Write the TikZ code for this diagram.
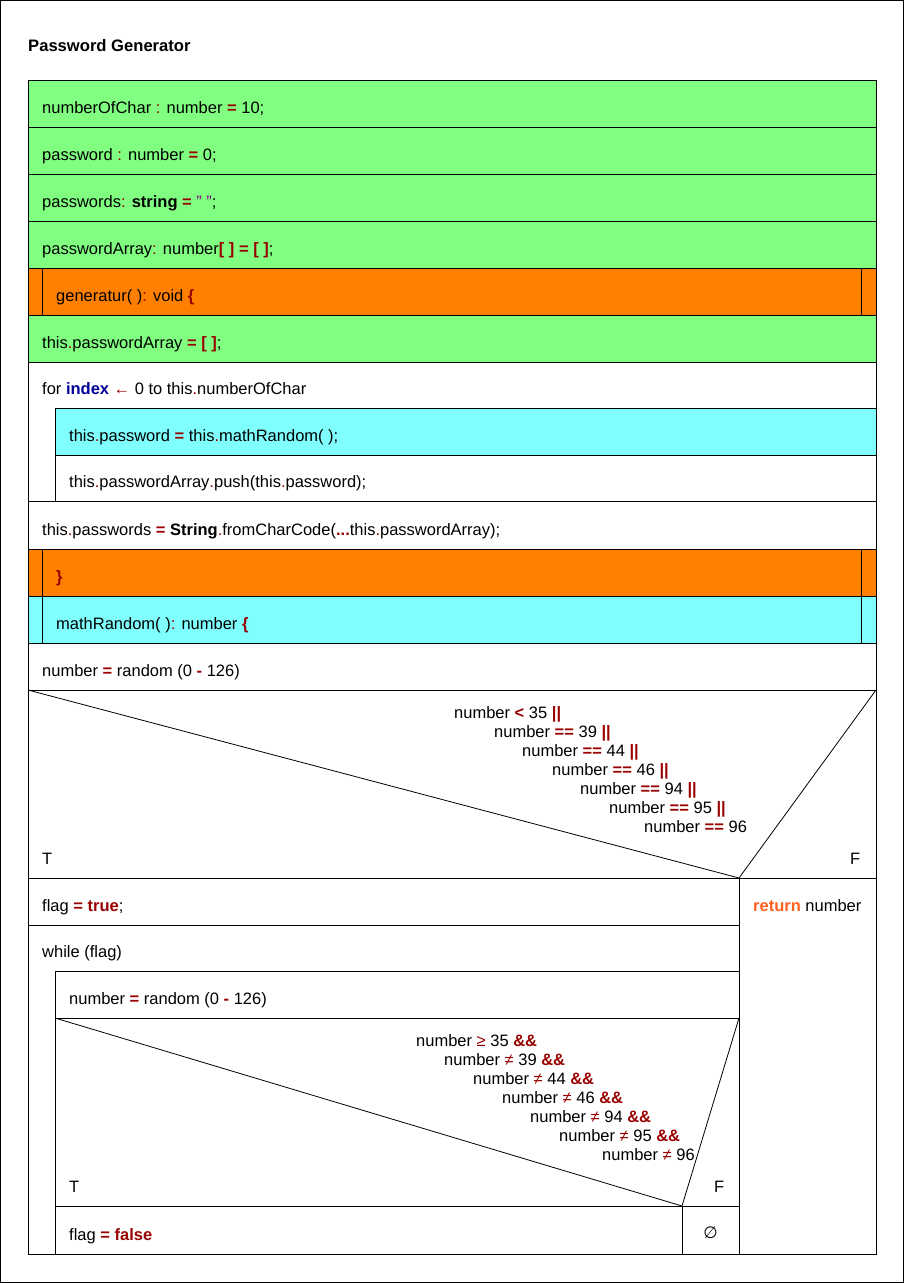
\documentclass[tikz,border=0pt]{standalone}
\usepackage{fontspec}
\setmainfont{Liberation Sans}
\newfontfamily\djv{DejaVu Sans}
\definecolor{nsgreen}{HTML}{80FF80}
\definecolor{nsorange}{HTML}{FF8000}
\definecolor{nscyan}{HTML}{80FFFF}
\definecolor{opred}{HTML}{990000}
\definecolor{kwblue}{HTML}{000099}
\definecolor{retorange}{HTML}{FF6020}
\definecolor{strpurple}{HTML}{800080}
\newcommand\opb[1]{\textcolor{opred}{\textbf{#1}}}
\newcommand\opn[1]{\textcolor{opred}{#1}}
\tikzset{
  txt/.style={anchor=base west,inner sep=0pt,font=\fontsize{16.5}{19}\selectfont},
  ttl/.style={anchor=base west,inner sep=0pt,font=\fontsize{16.6}{19}\selectfont\bfseries},
  ln/.style={draw=black,line width=1pt},
  diag/.style={draw=black,line width=0.8pt}
}
\begin{document}
\begin{tikzpicture}[x=1pt,y=-1pt]
\useasboundingbox (0,0) rectangle (904,1283);
\draw[line width=1.2pt] (0.6,0.6) rectangle (903.4,1282.4);
\node[ttl] (title) at (28,51) {Password Generator};
% fills
\fill[nsgreen] (28,80) rectangle (876,268);
\fill[nsorange] (28,268) rectangle (876,315);
\fill[nsgreen] (28,315) rectangle (876,362);
\fill[nscyan] (55,408) rectangle (876,455);
\fill[nsorange] (28,549) rectangle (876,596);
\fill[nscyan] (28,596) rectangle (876,643);
% lines
\draw[ln] (28,80) rectangle (876,1254);
\foreach \yy in {127,174,221,268,315,362,501,549,596,643,690,878}
  {\draw[ln] (28,\yy) -- (876,\yy);}
\draw[ln] (42,268) -- (42,315);
\draw[ln] (861,268) -- (861,315);
\draw[ln] (55,408) -- (876,408);
\draw[ln] (55,455) -- (876,455);
\draw[ln] (55,408) -- (55,501);
\draw[ln] (42,549) -- (42,643);
\draw[ln] (861,549) -- (861,643);
\draw[diag] (28,690) -- (739,878);
\draw[diag] (876,690) -- (739,878);
\draw[ln] (739,878) -- (739,1254);
\draw[ln] (28,925) -- (739,925);
\draw[ln] (55,971) -- (739,971);
\draw[ln] (55,971) -- (55,1254);
\draw[ln] (55,1018) -- (739,1018);
\draw[diag] (55,1018) -- (682,1206);
\draw[diag] (739,1018) -- (682,1206);
\draw[ln] (55,1206) -- (739,1206);
\draw[ln] (682,1206) -- (682,1254);
% texts
\node[txt] (r1) at (42,113) {numberOfChar \opn{:} number \opb{=} 10;};
\node[txt] (r2) at (42,160) {password \opn{:} number \opb{=} 0;};
\node[txt] (r3) at (42,207) {passwords\opn{:} \textbf{string} \opb{=} \textcolor{strpurple}{" "};};
\node[txt] (r4) at (42,254) {passwordArray\opn{:} number\opb{[ ]} \opb{=} \opb{[ ]};};
\node[txt] (r5) at (56,301) {generatur( )\opn{:} void \opb{\{}};
\node[txt] (r6) at (42,348) {this\opn{.}passwordArray \opb{=} \opb{[ ]};};
\node[txt] (r7) at (42,394) {for \textcolor{kwblue}{\textbf{index}} \opb{←} 0 to this\opn{.}numberOfChar};
\node[txt] (r8) at (69,441) {this\opn{.}password \opb{=} this\opn{.}mathRandom( );};
\node[txt] (r9) at (69,487) {this\opn{.}passwordArray\opn{.}push(this\opn{.}password);};
\node[txt] (r10) at (42,535) {this\opn{.}passwords \opb{=} \textbf{String}\opn{.}fromCharCode(\opb{...}this\opn{.}passwordArray);};
\node[txt] (r11) at (56,582) {\opb{\}}};
\node[txt] (r12) at (56,629) {mathRandom( )\opn{:} number \opb{\{}};
\node[txt] (r13) at (42,676) {number \opb{=} random (0 \opb{-} 126)};
% condition 1
\node[txt] (c1) at (454,718) {number \opb{<} 35 \opb{||}};
\node[txt] (c2) at (494,737) {number \opb{==} 39 \opb{||}};
\node[txt] (c3) at (522,756) {number \opb{==} 44 \opb{||}};
\node[txt] (c4) at (552,775) {number \opb{==} 46 \opb{||}};
\node[txt] (c5) at (580,794) {number \opb{==} 94 \opb{||}};
\node[txt] (c6) at (609,813) {number \opb{==} 95 \opb{||}};
\node[txt] (c7) at (644,832) {number \opb{==} 96};
\node[txt] (t1) at (42,864) {T};
\node[txt] (f1) at (850,864) {F};
\node[txt] (r14) at (42,911) {flag \opb{=} \opb{true};};
\node[txt] (ret) at (753,911) {\textcolor{retorange}{\textbf{return}} number};
\node[txt] (r15) at (42,957) {while (flag)};
\node[txt] (r16) at (69,1004) {number \opb{=} random (0 \opb{-} 126)};
% condition 2
\node[txt] (d1) at (416,1046) {number \opn{≥} 35 \opb{\&\&}};
\node[txt] (d2) at (444,1065) {number \opn{≠} 39 \opb{\&\&}};
\node[txt] (d3) at (473,1084) {number \opn{≠} 44 \opb{\&\&}};
\node[txt] (d4) at (502,1103) {number \opn{≠} 46 \opb{\&\&}};
\node[txt] (d5) at (530,1122) {number \opn{≠} 94 \opb{\&\&}};
\node[txt] (d6) at (559,1141) {number \opn{≠} 95 \opb{\&\&}};
\node[txt] (d7) at (602,1160) {number \opn{≠} 96};
\node[txt] (t2) at (69,1192) {T};
\node[txt] (f2) at (714,1192) {F};
\node[txt] (r17) at (69,1240) {flag \opb{=} \opb{false}};
\node[inner sep=0pt,font=\djv\fontsize{16.5}{19}\selectfont] (empty) at (710.5,1233) {∅};
\end{tikzpicture}
\end{document}
